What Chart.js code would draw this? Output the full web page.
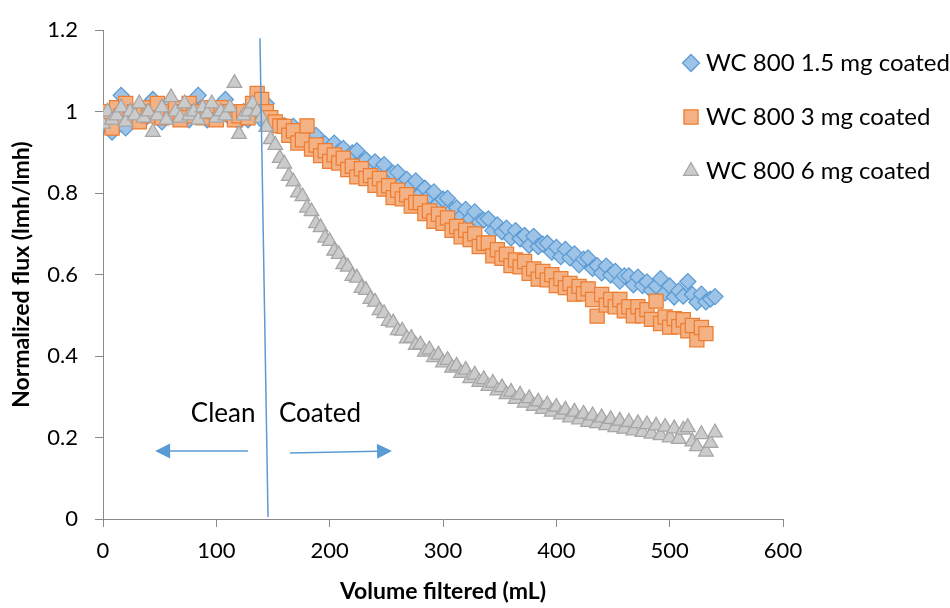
<!DOCTYPE html>
<html>
<head>
<meta charset="utf-8">
<script src="https://cdn.jsdelivr.net/npm/chart.js@4.4.0/dist/chart.umd.min.js"></script>
<style>
  html, body { margin: 0; padding: 0; background: #fff; }
  #wrap { width: 950px; height: 608px; }
</style>
</head>
<body>
<div id="wrap"><canvas id="flux" width="950" height="608"></canvas></div>
<script>
// volume filtered (mL) at each reading
const volume = [
  0, 4, 8, 12, 16, 20, 24, 28, 32, 36,
  40, 44, 48, 52, 56, 60, 64, 68, 72, 76,
  80, 84, 88, 92, 96, 100, 104, 108, 112, 116,
  120, 124, 128, 132, 136, 140, 144, 148, 152, 156,
  160, 164, 168, 172, 176, 180, 184, 188, 192, 196,
  200, 204, 208, 212, 216, 220, 224, 228, 232, 236,
  240, 244, 248, 252, 256, 260, 264, 268, 272, 276,
  280, 284, 288, 292, 296, 300, 304, 308, 312, 316,
  320, 324, 328, 332, 336, 340, 344, 348, 352, 356,
  360, 364, 368, 372, 376, 380, 384, 388, 392, 396,
  400, 404, 408, 412, 416, 420, 424, 428, 432, 436,
  440, 444, 448, 452, 456, 460, 464, 468, 472, 476,
  480, 484, 488, 492, 496, 500, 504, 508, 512, 516,
  520, 524, 528, 532, 536, 540
];

// normalized flux, WC 800 1.5 mg coated
const flux15 = [
  0.97, 0.985, 0.95, 1.00, 1.04, 0.96, 1.00, 0.99, 1.01, 0.98,
  1.00, 1.03, 0.99, 0.975, 1.00, 1.02, 0.99, 0.985, 1.005, 0.98,
  1.01, 1.04, 0.99, 0.98, 1.00, 0.99, 1.01, 1.03, 0.985, 0.99,
  0.975, 1.00, 0.98, 1.01, 0.995, 0.98, 1.02, 0.99, 0.975, 0.968,
  0.966, 0.947, 0.964, 0.941, 0.949, 0.924, 0.937, 0.942, 0.916, 0.921,
  0.905, 0.923, 0.902, 0.910, 0.883, 0.899, 0.904, 0.876, 0.882, 0.860,
  0.877, 0.855, 0.870, 0.838, 0.849, 0.851, 0.824, 0.834, 0.819, 0.830,
  0.798, 0.812, 0.794, 0.803, 0.775, 0.785, 0.787, 0.759, 0.764, 0.743,
  0.760, 0.737, 0.754, 0.729, 0.734, 0.737, 0.708, 0.722, 0.705, 0.714,
  0.690, 0.708, 0.688, 0.696, 0.672, 0.694, 0.669, 0.675, 0.677, 0.655,
  0.667, 0.644, 0.662, 0.641, 0.651, 0.624, 0.638, 0.641, 0.615, 0.622,
  0.604, 0.621, 0.599, 0.608, 0.584, 0.597, 0.597, 0.575, 0.594, 0.573,
  0.582, 0.561, 0.572, 0.590, 0.555, 0.572, 0.545, 0.560, 0.547, 0.583,
  0.551, 0.532, 0.552, 0.533, 0.540, 0.546
];

// normalized flux, WC 800 3 mg coated
const flux3 = [
  0.98, 1.00, 0.96, 1.01, 0.99, 1.02, 0.985, 1.00, 0.975, 1.01,
  0.99, 1.00, 1.02, 0.985, 1.00, 0.99, 1.01, 0.98, 1.00, 1.02,
  0.99, 1.00, 0.985, 1.01, 1.00, 0.98, 1.01, 0.995, 1.00, 0.98,
  0.99, 1.00, 0.985, 1.02, 1.045, 1.03, 1.00, 0.985, 0.975, 0.965,
  0.964, 0.942, 0.953, 0.923, 0.931, 0.965, 0.908, 0.918, 0.892, 0.904,
  0.878, 0.894, 0.874, 0.886, 0.858, 0.866, 0.840, 0.860, 0.836, 0.843,
  0.819, 0.836, 0.810, 0.818, 0.789, 0.807, 0.786, 0.796, 0.768, 0.777,
  0.777, 0.750, 0.756, 0.731, 0.748, 0.726, 0.739, 0.709, 0.718, 0.693,
  0.709, 0.686, 0.700, 0.669, 0.677, 0.678, 0.646, 0.661, 0.640, 0.650,
  0.622, 0.636, 0.619, 0.632, 0.603, 0.614, 0.589, 0.608, 0.587, 0.600,
  0.573, 0.590, 0.568, 0.578, 0.552, 0.571, 0.553, 0.565, 0.539, 0.498,
  0.551, 0.525, 0.539, 0.521, 0.539, 0.511, 0.521, 0.499, 0.521, 0.499,
  0.514, 0.490, 0.535, 0.480, 0.496, 0.471, 0.492, 0.472, 0.489, 0.462,
  0.475, 0.440, 0.470, 0.455
];

// normalized flux, WC 800 6 mg coated
const flux6 = [
  0.97, 1.00, 0.98, 0.99, 1.01, 0.975, 1.00, 0.99, 1.02, 0.985,
  1.00, 0.95, 0.99, 1.01, 0.98, 1.035, 1.00, 0.985, 1.02, 0.99,
  1.00, 0.98, 1.01, 0.995, 1.02, 0.985, 1.00, 0.99, 1.01, 1.07,
  0.945, 0.99, 1.00, 1.02, 1.00, 0.985, 0.962, 0.932, 0.918, 0.886,
  0.872, 0.842, 0.828, 0.801, 0.792, 0.764, 0.755, 0.726, 0.716, 0.690,
  0.682, 0.658, 0.650, 0.625, 0.619, 0.596, 0.592, 0.567, 0.562, 0.540,
  0.533, 0.512, 0.505, 0.486, 0.482, 0.463, 0.462, 0.443, 0.444, 0.427,
  0.428, 0.410, 0.416, 0.397, 0.403, 0.384, 0.390, 0.371, 0.376, 0.358,
  0.366, 0.345, 0.354, 0.336, 0.343, 0.326, 0.334, 0.315, 0.323, 0.306,
  0.312, 0.294, 0.305, 0.285, 0.296, 0.277, 0.288, 0.270, 0.281, 0.263,
  0.275, 0.256, 0.268, 0.249, 0.263, 0.244, 0.258, 0.238, 0.254, 0.235,
  0.249, 0.230, 0.245, 0.225, 0.241, 0.221, 0.238, 0.217, 0.235, 0.213,
  0.232, 0.209, 0.229, 0.205, 0.226, 0.200, 0.222, 0.196, 0.219, 0.225,
  0.190, 0.178, 0.208, 0.165, 0.186, 0.212
];

const seriesNames = ['WC 800 1.5 mg coated', 'WC 800 3 mg coated', 'WC 800 6 mg coated'];

// annotation in data units
const divider = { from: [138.5, 1.18], to: [145.6, 0.005] };
const arrows = [
  { from: [128, 0.167], to: [46, 0.167] },
  { from: [165, 0.162], to: [255, 0.167] },
];
const regionLabels = [
  { text: 'Clean', at: [106, 0.258] },
  { text: 'Coated', at: [191.5, 0.258] },
];

const FONT = 'Lato, "Open Sans", sans-serif';
const AXIS = '#898989';

function pts(ys) {
  return ys.map((y, i) => ({ x: volume[i], y }));
}

function marker(ctx, style, x, y, r, fill, stroke) {
  ctx.beginPath();
  if (style === 'rectRot') {
    ctx.moveTo(x, y - r); ctx.lineTo(x + r, y); ctx.lineTo(x, y + r); ctx.lineTo(x - r, y);
  } else if (style === 'rect') {
    const s = r * Math.SQRT1_2;
    ctx.rect(x - s, y - s, 2 * s, 2 * s);
  } else {
    ctx.moveTo(x, y - r);
    ctx.lineTo(x + r * 0.866, y + r * 0.5);
    ctx.lineTo(x - r * 0.866, y + r * 0.5);
  }
  ctx.closePath();
  ctx.fillStyle = fill; ctx.fill();
  ctx.strokeStyle = stroke; ctx.lineWidth = 1.25; ctx.stroke();
}

function arrow(ctx, x1, y1, x2, y2) {
  const ang = Math.atan2(y2 - y1, x2 - x1);
  const len = 15, half = 7.5;
  const bx = x2 - Math.cos(ang) * len, by = y2 - Math.sin(ang) * len;
  ctx.beginPath();
  ctx.moveTo(x1, y1); ctx.lineTo(bx, by);
  ctx.stroke();
  ctx.beginPath();
  ctx.moveTo(x2, y2);
  ctx.lineTo(bx + Math.sin(ang) * half, by - Math.cos(ang) * half);
  ctx.lineTo(bx - Math.sin(ang) * half, by + Math.cos(ang) * half);
  ctx.closePath();
  ctx.fill();
}

const overlay = {
  id: 'overlay',
  afterDatasetsDraw(chart) {
    const { ctx, scales: { x, y } } = chart;
    const px = p => [x.getPixelForValue(p[0]), y.getPixelForValue(p[1])];
    ctx.save();
    ctx.strokeStyle = '#5B9BD5';
    ctx.fillStyle = '#5B9BD5';
    ctx.lineWidth = 1.5;
    const a = px(divider.from), b = px(divider.to);
    ctx.beginPath(); ctx.moveTo(a[0], a[1]); ctx.lineTo(b[0], b[1]); ctx.stroke();
    arrows.forEach(ar => {
      const f = px(ar.from), t = px(ar.to);
      arrow(ctx, f[0], f[1], t[0], t[1]);
    });
    ctx.fillStyle = '#000';
    ctx.font = '26px ' + FONT;
    ctx.textAlign = 'center';
    ctx.textBaseline = 'middle';
    regionLabels.forEach(l => {
      const p = px(l.at);
      ctx.fillText(l.text, p[0], p[1]);
    });
    ctx.restore();
  },
  afterDraw(chart) {
    const ctx = chart.ctx;
    ctx.save();
    ctx.font = '24px ' + FONT;
    ctx.textAlign = 'left';
    ctx.textBaseline = 'middle';
    chart.data.datasets.forEach((ds, i) => {
      const cy = 63 + i * 54;
      marker(ctx, ds.pointStyle, 691, cy, ds.pointStyle === 'rect' ? 10 : 8.5, ds.backgroundColor, ds.borderColor);
      ctx.fillStyle = '#000';
      ctx.fillText(seriesNames[i], 706, cy);
    });
    ctx.restore();
  }
};

new Chart(document.getElementById('flux'), {
  type: 'scatter',
  data: {
    datasets: [
      {
        label: seriesNames[0],
        data: pts(flux15),
        pointStyle: 'rectRot',
        pointRadius: 8,
        backgroundColor: '#9DC3E6',
        borderColor: '#5B9BD5',
        borderWidth: 1.25,
        order: 3,
      },
      {
        label: seriesNames[1],
        data: pts(flux3),
        pointStyle: 'rect',
        pointRadius: 10,
        backgroundColor: '#F4B183',
        borderColor: '#ED7D31',
        borderWidth: 1.25,
        order: 2,
      },
      {
        label: seriesNames[2],
        data: pts(flux6),
        pointStyle: 'triangle',
        pointRadius: 8.5,
        backgroundColor: '#CBCBCB',
        borderColor: '#A5A5A5',
        borderWidth: 1.25,
        order: 1,
      },
    ],
  },
  options: {
    responsive: false,
    animation: false,
    layout: { padding: { top: 22, right: 167, left: 0, bottom: 0 } },
    plugins: {
      legend: { display: false },
      tooltip: { enabled: false },
    },
    scales: {
      x: {
        type: 'linear',
        min: 0,
        max: 600,
        afterFit: s => { s.height = 89; },
        ticks: { stepSize: 100, color: '#000', padding: 11, font: { family: FONT, size: 22 } },
        grid: { drawOnChartArea: false, drawTicks: true, tickLength: 8, color: AXIS },
        border: { color: AXIS, width: 1 },
        title: {
          display: true,
          text: 'Volume filtered (mL)',
          color: '#000',
          font: { family: FONT, size: 23, weight: 'bold' },
          padding: { top: 4, bottom: 3 },
        },
      },
      y: {
        type: 'linear',
        min: 0,
        max: 1.2,
        afterFit: s => { s.width = 103; },
        ticks: {
          stepSize: 0.2,
          color: '#000',
          padding: 17,
          font: { family: FONT, size: 22 },
          callback: v => String(Math.round(v * 10) / 10),
        },
        grid: { drawOnChartArea: false, drawTicks: true, tickLength: 8, color: AXIS },
        border: { color: AXIS, width: 1 },
        title: {
          display: true,
          text: 'Normalized flux (lmh/lmh)',
          color: '#000',
          font: { family: FONT, size: 23, weight: 'bold' },
          padding: { top: 8, bottom: 0 },
        },
      },
    },
  },
  plugins: [overlay],
});
</script>
</body>
</html>
